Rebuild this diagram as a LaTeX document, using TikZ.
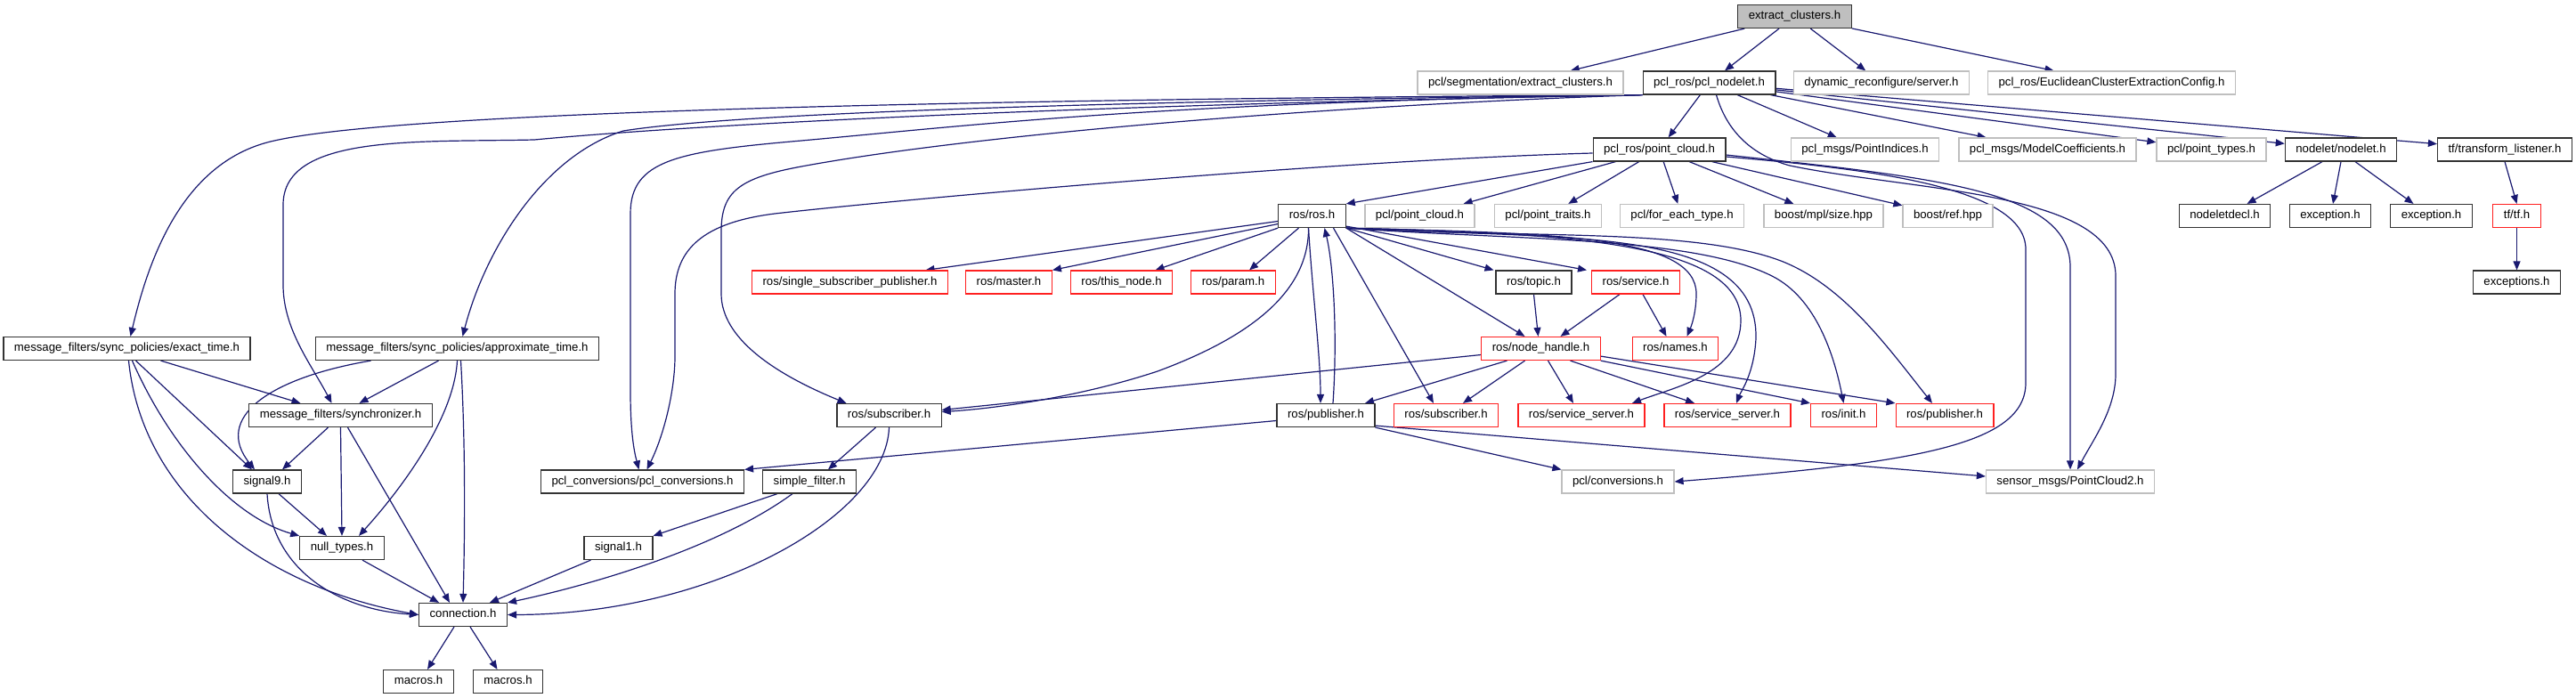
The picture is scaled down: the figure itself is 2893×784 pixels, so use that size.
\documentclass[tikz,border=0pt]{standalone}
\usepackage{fontspec}
\setmainfont{Liberation Sans}
\usepackage{xcolor}
\usepackage{tikz}
\usetikzlibrary{arrows.meta,backgrounds}
\definecolor{edgeblue}{HTML}{191970}
\definecolor{extgray}{HTML}{BFBFBF}
\definecolor{boxred}{HTML}{FF2020}

\begin{document}
\begin{tikzpicture}%
                [x={(1pt,0pt)},
                y={(0pt,-1pt)},
                file/.style={draw=black!80, line width=1.2pt, fill=white, minimum height=26pt,
                             inner xsep=12pt, inner ysep=0pt, text height=9.6pt, text depth=2.8pt,
                             font=\fontsize{13.2}{15}\selectfont},
                rootfile/.style={file, fill=extgray},
                extfile/.style={file, draw=extgray},
                redfile/.style={file, draw=boxred},
                dep/.style={draw=edgeblue, line width=1.2pt, -{Triangle[length=10pt,width=8pt]}}]

            \useasboundingbox (0,0) rectangle (2893,784);
            %%
            %% Drawing the files
            %%
            \node[rootfile] (ec) at (2015.5, 18.5) {extract\_clusters.h};
            %% first level
            \node[extfile] (segec) at (1707.5, 93) {pcl/segmentation/extract\_clusters.h};
            \node[file] (nodelet) at (1919.5, 93) {pcl\_ros/pcl\_nodelet.h};
            \node[extfile] (dynrec) at (2113, 93) {dynamic\_reconfigure/server.h};
            \node[extfile] (euclid) at (2371.5, 93) {pcl\_ros/EuclideanClusterExtractionConfig.h};
            %% second level
            \node[file] (pcloud) at (1863.5, 168) {pcl\_ros/point\_cloud.h};
            \node[extfile] (pidx) at (2094.5, 168) {pcl\_msgs/PointIndices.h};
            \node[extfile] (mcoef) at (2299.5, 168) {pcl\_msgs/ModelCoefficients.h};
            \node[extfile] (ptypes) at (2483.5, 168) {pcl/point\_types.h};
            \node[file] (ndlt) at (2629, 168) {nodelet/nodelet.h};
            \node[file] (tflist) at (2813, 168) {tf/transform\_listener.h};
            %% third level
            \node[file] (ros) at (1473.5, 242.5) {ros/ros.h};
            \node[extfile] (pclpc) at (1594.5, 242.5) {pcl/point\_cloud.h};
            \node[extfile] (ptraits) at (1738.5, 242.5) {pcl/point\_traits.h};
            \node[extfile] (foreach) at (1889, 242.5) {pcl/for\_each\_type.h};
            \node[extfile] (mplsize) at (2048, 242.5) {boost/mpl/size.hpp};
            \node[extfile] (bref) at (2187.5, 242.5) {boost/ref.hpp};
            \node[file] (ndecl) at (2498.5, 242.5) {nodeletdecl.h};
            \node[file] (exca) at (2617, 242.5) {exception.h};
            \node[file] (excb) at (2730.5, 242.5) {exception.h};
            \node[redfile] (tftf) at (2826.5, 242.5) {tf/tf.h};
            %% fourth level
            \node[redfile] (ssp) at (954.5, 317) {ros/single\_subscriber\_publisher.h};
            \node[redfile] (master) at (1133, 317) {ros/master.h};
            \node[redfile] (thisnode) at (1259.5, 317) {ros/this\_node.h};
            \node[redfile] (param) at (1385, 317) {ros/param.h};
            \node[file] (topic) at (1722.5, 317) {ros/topic.h};
            \node[redfile] (service) at (1837, 317) {ros/service.h};
            \node[file] (tfexc) at (2826.5, 317) {exceptions.h};
            %% fifth level
            \node[file] (exact) at (142.5, 391.5) {message\_filters/sync\_policies/exact\_time.h};
            \node[file] (approx) at (513.5, 391.5) {message\_filters/sync\_policies/approximate\_time.h};
            \node[redfile] (nh) at (1730.5, 391.5) {ros/node\_handle.h};
            \node[redfile] (names) at (1881.5, 391.5) {ros/names.h};
            %% sixth level
            \node[file] (sync) at (382.5, 466.5) {message\_filters/synchronizer.h};
            \node[file] (sub) at (998.5, 466.5) {ros/subscriber.h};
            \node[file] (pub) at (1489, 466.5) {ros/publisher.h};
            \node[redfile] (subr) at (1624, 466.5) {ros/subscriber.h};
            \node[redfile] (ssa) at (1776, 466.5) {ros/service\_server.h};
            \node[redfile] (ssb) at (1940, 466.5) {ros/service\_server.h};
            \node[redfile] (init) at (2070.5, 466.5) {ros/init.h};
            \node[redfile] (pubr) at (2184, 466.5) {ros/publisher.h};
            %% seventh level
            \node[file] (sig9) at (300, 541) {signal9.h};
            \node[file] (pclconv) at (721.5, 541) {pcl\_conversions/pcl\_conversions.h};
            \node[file] (sfilter) at (909, 541) {simple\_filter.h};
            \node[extfile] (conv) at (1817, 541) {pcl/conversions.h};
            \node[extfile] (pc2) at (2325, 541) {sensor\_msgs/PointCloud2.h};
            %% bottom levels
            \node[file] (nullt) at (384, 615.5) {null\_types.h};
            \node[file] (sig1) at (694.5, 615.5) {signal1.h};
            \node[file] (conn) at (520, 690.5) {connection.h};
            \node[file] (maca) at (470, 765.5) {macros.h};
            \node[file] (macb) at (570.5, 765.5) {macros.h};

            \begin{scope}[on background layer]
            %%
            %% Drawing the includes
            %%
            \draw[dep] (ec) -- (segec);
            \draw[dep] (ec) -- (nodelet);
            \draw[dep] (ec) -- (dynrec);
            \draw[dep] (ec) -- (euclid);
            %% pcl_nodelet.h
            \draw[dep] (nodelet) -- (pcloud);
            \draw[dep] (nodelet) -- (pidx);
            \draw[dep] (nodelet) -- (mcoef);
            \draw[dep] (nodelet) -- (ptypes);
            \draw[dep] (nodelet) -- (ndlt);
            \draw[dep] (nodelet) -- (tflist);
            \draw[dep] (nodelet.south west) .. controls (1000,112) and (420,128) .. (300,160)
                .. controls (200,187) and (165,300) .. ([xshift=4pt]exact.north);
            \draw[dep] (nodelet.south west) .. controls (1200,118) and (780,140) .. (600,157)
                .. controls (470,160) and (318,150) .. (318,230) -- (318,320)
                .. controls (318,370) and (350,410) .. ([xshift=-10pt]sync.north);
            \draw[dep] (nodelet.south west) .. controls (1200,114) and (820,128) .. (700,147)
                .. controls (610,175) and (545,280) .. ([xshift=6pt]approx.north);
            \draw[dep] (nodelet.south west) .. controls (1300,115) and (1100,140) .. (900,158)
                .. controls (760,170) and (708,180) .. (708,240) -- (708,440)
                .. controls (708,490) and (713,510) .. ([xshift=-4pt]pclconv.north);
            \draw[dep] (nodelet.south west) .. controls (1500,118) and (1100,150) .. (900,187)
                .. controls (830,200) and (810,215) .. (810,260) -- (810,330)
                .. controls (810,380) and (870,420) .. ([xshift=-48pt]sub.north);
            \draw[dep] ([xshift=8pt]nodelet.south) .. controls (1940,150) and (1970,175) .. (2010,186)
                .. controls (2150,215) and (2376,215) .. (2376,310) -- (2376,420)
                .. controls (2376,460) and (2350,495) .. ([xshift=8pt]pc2.north);
            %% pcl_ros/point_cloud.h
            \draw[dep] (pcloud.south west) -- (ros.north east);
            \draw[dep] (pcloud) -- (pclpc);
            \draw[dep] (pcloud) -- (ptraits);
            \draw[dep] (pcloud) -- (foreach);
            \draw[dep] (pcloud) -- (mplsize);
            \draw[dep] (pcloud) -- (bref);
            \draw[dep] ([yshift=-4pt]pcloud.west) .. controls (1500,180) and (1000,225) .. (870,240)
                .. controls (790,250) and (758,280) .. (758,330) -- (758,400)
                .. controls (758,440) and (745,490) .. ([xshift=5pt]pclconv.north);
            \draw[dep] ([yshift=-8pt]pcloud.east) .. controls (2100,190) and (2275,210) .. (2275,280)
                -- (2275,430) .. controls (2275,500) and (2150,520) .. (conv.east);
            \draw[dep] ([yshift=-6pt]pcloud.east) .. controls (2180,200) and (2325,215) .. (2325,300)
                -- (pc2.north);
            %% nodelet/nodelet.h and tf
            \draw[dep] ([xshift=-21pt]ndlt.south) -- ([xshift=25pt]ndecl.north);
            \draw[dep] (ndlt.south) -- ([xshift=3pt]exca.north);
            \draw[dep] ([xshift=16pt]ndlt.south) -- ([xshift=-20pt]excb.north);
            \draw[dep] (tflist.south) -- (tftf.north);
            \draw[dep] (tftf) -- (tfexc);
            %% ros/ros.h
            \draw[dep] ([yshift=-6pt]ros.west) -- ([xshift=85pt]ssp.north);
            \draw[dep] ([yshift=-9pt]ros.west) -- (master.north east);
            \draw[dep] (ros.south west) -- ([xshift=38pt]thisnode.north);
            \draw[dep] ([xshift=-15pt]ros.south) -- ([xshift=18pt]param.north);
            \draw[dep] (ros.south east) -- ([xshift=-45pt]topic.north);
            \draw[dep] ([yshift=2pt]ros.south east) -- ([xshift=-55pt]service.north);
            \draw[dep] (ros.south east) -- ([xshift=-18pt]nh.north);
            \draw[dep] (ros.south east) .. controls (1750,262) and (1905,265) .. (1905,330)
                .. controls (1905,350) and (1900,365) .. ([xshift=13pt]names.north);
            \draw[dep] (ros.south east) .. controls (1750,262) and (1955,270) .. (1955,360)
                .. controls (1955,420) and (1880,435) .. ([xshift=57pt]ssa.north);
            \draw[dep] (ros.south east) .. controls (1750,270) and (1975,250) .. (1972,380)
                .. controls (1970,420) and (1955,440) .. ([xshift=10pt]ssb.north);
            \draw[dep] (ros.south east) .. controls (1700,270) and (1900,265) .. (1990,310)
                .. controls (2040,335) and (2060,400) .. (init.north);
            \draw[dep] (ros.south east) .. controls (1700,268) and (1900,255) .. (2000,293)
                .. controls (2070,320) and (2120,390) .. ([xshift=-14pt]pubr.north);
            \draw[dep] ([xshift=24pt]ros.south) -- ([xshift=-14pt]subr.north);
            \draw[dep] ([xshift=-4pt]ros.south) .. controls (1470,330) and (1400,380) .. (1300,417)
                .. controls (1200,450) and (1100,460) .. ([yshift=4pt]sub.east);
            \draw[dep] ([xshift=-4pt]ros.south) .. controls (1474,330) and (1483,400) .. ([xshift=-6pt]pub.north);
            \draw[dep] ([xshift=8pt]pub.north) .. controls (1502,380) and (1498,300) .. ([xshift=14pt]ros.south);
            %% ros/topic.h, ros/service.h
            \draw[dep] (topic.south) -- ([xshift=-3pt]nh.north);
            \draw[dep] ([xshift=-18pt]service.south) -- ([xshift=22pt]nh.north);
            \draw[dep] ([xshift=8pt]service.south) -- ([xshift=-10pt]names.north);
            %% ros/node_handle.h
            \draw[dep] ([yshift=-7pt]nh.west) -- ([yshift=6pt]sub.east);
            \draw[dep] ([xshift=-38pt]nh.south) -- ([xshift=44pt]pub.north);
            \draw[dep] ([xshift=-18pt]nh.south) -- ([xshift=19pt]subr.north);
            \draw[dep] ([xshift=8pt]nh.south) -- ([xshift=-9pt]ssa.north);
            \draw[dep] ([xshift=33pt]nh.south) -- ([xshift=-37pt]ssb.north);
            \draw[dep] (nh.south east) -- (init.north west);
            \draw[dep] ([yshift=5pt]nh.south east) -- (pubr.north west);
            %% ros/publisher.h
            \draw[dep] ([yshift=-6pt]pub.west) -- (pclconv.north east);
            \draw[dep] (pub.south east) -- (conv.north west);
            \draw[dep] ([yshift=2pt]pub.south east) -- ([yshift=6pt]pc2.west);
            %% message_filters
            \draw[dep] ([xshift=38pt]exact.south) -- ([xshift=-45pt]sync.north);
            \draw[dep] ([xshift=10pt]exact.south) -- ([xshift=-17pt]sig9.north);
            \draw[dep] ([xshift=6pt]exact.south) .. controls (190,500) and (260,580) .. (nullt.north west);
            \draw[dep] ([xshift=2pt]exact.south) .. controls (160,560) and (300,660) .. (conn.west);
            \draw[dep] ([xshift=-97pt]approx.south) .. controls (300,425) and (240,470) .. ([xshift=-14pt]sig9.north);
            \draw[dep] ([xshift=-21pt]approx.south) -- ([xshift=21pt]sync.north);
            \draw[dep] (approx.south) .. controls (510,470) and (450,550) .. ([xshift=19pt]nullt.north);
            \draw[dep] ([xshift=4pt]approx.south) .. controls (523,500) and (522,600) .. (conn.north);
            \draw[dep] ([xshift=-14pt]sync.south) -- ([xshift=17pt]sig9.north);
            \draw[dep] (sync.south) -- (nullt.north);
            \draw[dep] ([xshift=8pt]sync.south) -- ([xshift=-15pt]conn.north);
            \draw[dep] ([xshift=13pt]sig9.south) -- ([xshift=-17pt]nullt.north);
            \draw[dep] (sig9.south) .. controls (305,640) and (380,685) .. (conn.west);
            \draw[dep] ([xshift=23pt]nullt.south) -- ([xshift=-27pt]conn.north);
            \draw[dep] ([xshift=-15pt]sub.south) -- ([xshift=21pt]sfilter.north);
            \draw[dep] (sub.south) .. controls (995,580) and (800,690) .. (conn.east);
            \draw[dep] ([xshift=-36pt]sfilter.south) -- (sig1.north east);
            \draw[dep] ([xshift=-19pt]sfilter.south) .. controls (800,620) and (650,660) .. (conn.north east);
            \draw[dep] ([xshift=-31pt]sig1.south) -- ([xshift=30pt]conn.north);
            \draw[dep] ([xshift=-10pt]conn.south) -- ([xshift=10pt]maca.north);
            \draw[dep] ([xshift=8pt]conn.south) -- ([xshift=-12pt]macb.north);
            \end{scope}
\end{tikzpicture}
\end{document}
